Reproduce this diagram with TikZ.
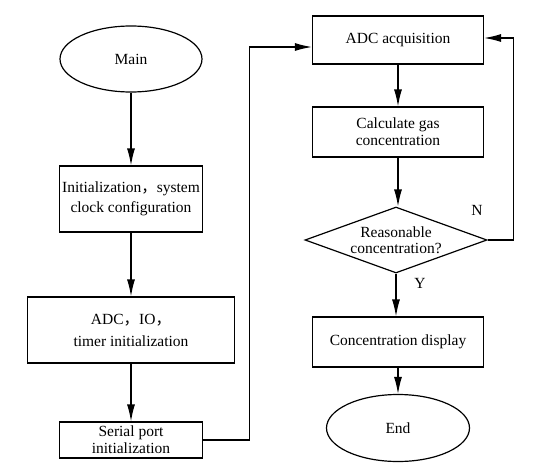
\documentclass[tikz,border=0pt]{standalone}
\usepackage{fontspec}
\setmainfont{Liberation Serif}
\newfontfamily\cjk{Noto Sans CJK SC}
\usetikzlibrary{arrows.meta,shapes.geometric}

\tikzset{
    box/.style={draw, line width=1.2pt, rectangle, align=center, inner sep=0pt},
    oval/.style={draw, line width=1.2pt, ellipse, minimum width=142pt, minimum height=66pt, inner sep=0pt},
    ask/.style={draw, line width=1.2pt, diamond, aspect=2.76, minimum width=182pt, minimum height=66pt, inner sep=0pt, align=center},
    flow/.style={line width=1.2pt, -{Latex[length=17pt,width=8pt]}},
}

\begin{document}
\begin{tikzpicture}[x=1pt, y=-1pt, font=\fontsize{15.5}{17}\selectfont]
        \useasboundingbox (0,0) rectangle (541,471);
        % left column
        \node[oval] (main) at (131,59) {Main};
        \node[box, minimum width=143pt, minimum height=66pt] (init) at (131,199) {Initialization{\cjk，}system\\[3pt]clock configuration};
        \node[box, minimum width=207pt, minimum height=66pt] (adcio) at (131,330) {ADC{\cjk，}IO{\cjk，}\\[5pt]timer initialization};
        \node[box, minimum width=143pt, minimum height=36pt] (serial) at (131,440) {Serial port\\initialization};
        % right column
        \node[box, minimum width=171pt, minimum height=48pt] (acq) at (398,40) {ADC acquisition};
        \node[box, minimum width=171pt, minimum height=50pt] (calc) at (398,132) {Calculate gas\\concentration};
        \node[ask, font=\fontsize{15.5}{16}\selectfont] (check) at (396,240) {Reasonable\\concentration?};
        \node[box, minimum width=171pt, minimum height=50pt] (show) at (398,342) {Concentration display};
        \node[oval, minimum width=143pt, minimum height=67pt] (stop) at (398,428) {End};
        \node (no) at (477,210) {N};
        \node (yes) at (420,283) {Y};
        % connectors
        \draw[flow] (main) -- (init);
        \draw[flow] (init) -- (adcio);
        \draw[flow] (adcio) -- (serial);
        \draw[flow] (serial.east) -- ++(46,0) |- ([yshift=-7pt]acq.west);
        \draw[flow] (acq) -- (calc);
        \draw[flow] (calc) -- (calc |- check.north);
        \draw[flow] (check.south) -- (check.south |- show.north);
        \draw[flow] (show) -- (stop);
        \draw[flow] (check.east) -- ++(26,0) |- ([yshift=2pt]acq.east);
    \end{tikzpicture}
\end{document}
